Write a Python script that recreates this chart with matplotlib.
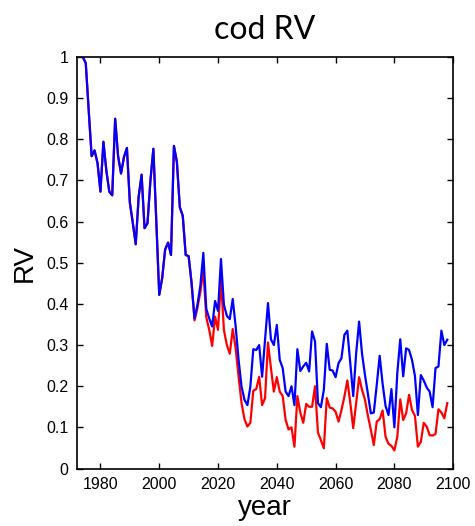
import matplotlib
matplotlib.use("Agg")
import matplotlib.pyplot as plt
import numpy as np

years = list(range(1974, 2099))

rv_blue = [
    1.000, 0.985, 0.870, 0.759, 0.773, 0.742, 0.673, 0.794, 0.724, 0.673,
    0.664, 0.850, 0.759, 0.717, 0.757, 0.779, 0.646, 0.597, 0.545, 0.661,
    0.714, 0.584, 0.596, 0.700, 0.777, 0.600, 0.422, 0.463, 0.532, 0.549,
    0.519, 0.784, 0.745, 0.635, 0.614, 0.519, 0.516, 0.451, 0.365, 0.398,
    0.445, 0.524, 0.388, 0.365, 0.345, 0.407, 0.383, 0.509, 0.398, 0.371,
    0.363, 0.412, 0.345, 0.264, 0.199, 0.167, 0.154, 0.199, 0.290, 0.288,
    0.300, 0.223, 0.313, 0.402, 0.314, 0.300, 0.349, 0.264, 0.244, 0.187,
    0.176, 0.200, 0.154, 0.290, 0.237, 0.248, 0.257, 0.236, 0.333, 0.309,
    0.159, 0.149, 0.191, 0.303, 0.240, 0.238, 0.222, 0.256, 0.268, 0.325,
    0.335, 0.256, 0.176, 0.280, 0.357, 0.279, 0.227, 0.181, 0.134, 0.136,
    0.203, 0.274, 0.206, 0.152, 0.130, 0.193, 0.100, 0.232, 0.314, 0.224,
    0.292, 0.288, 0.264, 0.225, 0.130, 0.227, 0.214, 0.197, 0.187, 0.149,
    0.244, 0.248, 0.335, 0.300, 0.313,
]

rv_red = [
    1.000, 0.985, 0.870, 0.759, 0.773, 0.742, 0.673, 0.794, 0.724, 0.673,
    0.664, 0.850, 0.759, 0.717, 0.757, 0.779, 0.646, 0.597, 0.545, 0.661,
    0.714, 0.584, 0.596, 0.700, 0.777, 0.600, 0.422, 0.463, 0.532, 0.549,
    0.519, 0.784, 0.745, 0.635, 0.614, 0.519, 0.516, 0.451, 0.360, 0.390,
    0.430, 0.483, 0.368, 0.337, 0.298, 0.369, 0.337, 0.460, 0.337, 0.300,
    0.279, 0.339, 0.292, 0.223, 0.159, 0.120, 0.102, 0.111, 0.189, 0.193,
    0.223, 0.154, 0.171, 0.306, 0.244, 0.187, 0.222, 0.187, 0.176, 0.118,
    0.095, 0.100, 0.053, 0.176, 0.136, 0.111, 0.157, 0.150, 0.150, 0.200,
    0.087, 0.069, 0.049, 0.171, 0.148, 0.146, 0.138, 0.114, 0.142, 0.175,
    0.214, 0.160, 0.098, 0.159, 0.222, 0.191, 0.167, 0.128, 0.094, 0.057,
    0.114, 0.120, 0.141, 0.077, 0.060, 0.055, 0.044, 0.077, 0.168, 0.118,
    0.134, 0.179, 0.142, 0.128, 0.053, 0.065, 0.111, 0.102, 0.081, 0.080,
    0.084, 0.144, 0.136, 0.122, 0.159,
]

x_ticks = [1980, 2000, 2020, 2040, 2060, 2080, 2100]
y_ticks = [0, 0.1, 0.2, 0.3, 0.4, 0.5, 0.6, 0.7, 0.8, 0.9, 1]
y_tick_labels = ["0", "0.1", "0.2", "0.3", "0.4", "0.5", "0.6", "0.7", "0.8", "0.9", "1"]

plt.rcParams['font.family'] = ['Liberation Sans', 'DejaVu Sans']

fig = plt.figure(figsize=(4.75, 5.26), dpi=100)
ax = fig.add_axes([0.162, 0.1093, 0.792, 0.7823])

ax.plot(years, rv_red, color='#ff0000', lw=1.6)
ax.plot(years, rv_blue, color='#0000ff', lw=1.6)

ax.set_xlim(1972, 2100)
ax.set_ylim(0, 1)
ax.set_xticks(x_ticks)
ax.set_yticks(y_ticks)
ax.set_yticklabels(y_tick_labels)
ax.tick_params(direction='in', length=4, width=1, top=True, right=True,
               labelsize=11.5, pad=6)
for s in ax.spines.values():
    s.set_linewidth(1.2)

ax.set_xlabel('year', fontsize=20, labelpad=2)
ax.set_ylabel('RV', fontsize=20, labelpad=6)
ax.set_title('cod RV', fontsize=23, family=['Lato', 'DejaVu Sans'], pad=13)

fig.savefig('out.png', dpi=100)
